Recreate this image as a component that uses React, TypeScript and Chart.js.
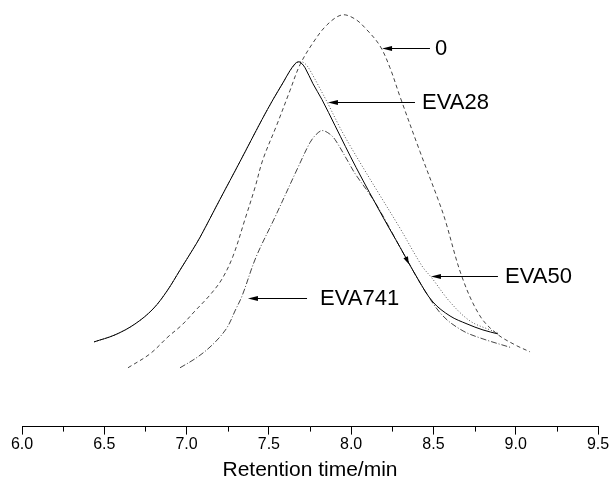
import React, { useEffect, useRef } from 'react';
import { Chart, registerables } from 'chart.js';

Chart.register(...registerables);

// ---- axis ----
const X_MIN = 6.0;
const X_MAX = 9.5;
const X_MAJOR_STEP = 0.5;
const X_MINOR_STEP = 0.25;
const X_TITLE = 'Retention time/min';

// ---- series: sample "0" (dashed) ----
const eva0X = [6.644, 6.778, 6.887, 6.972, 7.051, 7.142, 7.215, 7.282, 7.355, 7.416, 7.464, 7.549, 7.628, 7.689, 7.768, 7.853, 7.944, 8.023, 8.096, 8.175, 8.236, 8.297, 8.418, 8.528, 8.570, 8.674, 8.783, 8.886, 8.996, 9.087];
const eva0Y = [13.79, 17.06, 21.03, 23.83, 27.10, 30.84, 34.58, 39.95, 48.60, 56.07, 62.62, 70.79, 78.74, 84.81, 89.95, 94.16, 96.50, 95.56, 92.99, 89.25, 84.11, 77.34, 64.49, 53.27, 48.60, 35.05, 25.93, 21.73, 19.16, 17.52];

// ---- series: EVA28 (solid) ----
const eva28X = [6.438, 6.565, 6.687, 6.796, 6.881, 6.960, 7.039, 7.082, 7.203, 7.325, 7.458, 7.525, 7.586, 7.628, 7.659, 7.677, 7.695, 7.720, 7.768, 7.823, 7.902, 8.030, 8.194, 8.297, 8.406, 8.497, 8.601, 8.704, 8.801, 8.892];
const eva28Y = [19.86, 21.50, 24.07, 27.57, 31.78, 36.68, 41.59, 44.39, 53.27, 62.15, 71.96, 76.64, 80.61, 83.41, 85.05, 85.51, 85.28, 84.11, 80.37, 76.64, 70.56, 60.75, 49.07, 42.06, 34.58, 29.21, 25.93, 24.07, 22.66, 21.73];

// ---- series: EVA50 (dotted) ----
const eva50X = [6.438, 6.565, 6.687, 6.796, 6.881, 6.960, 7.039, 7.082, 7.203, 7.325, 7.458, 7.525, 7.586, 7.628, 7.671, 7.701, 7.732, 7.762, 7.811, 7.859, 7.932, 7.993, 8.072, 8.175, 8.297, 8.431, 8.491, 8.601, 8.722, 8.844, 8.892];
const eva50Y = [19.86, 21.50, 24.07, 27.57, 31.78, 36.68, 41.59, 44.39, 53.27, 62.15, 71.96, 76.64, 80.61, 83.41, 85.28, 85.51, 84.58, 82.71, 79.21, 75.70, 70.09, 65.89, 60.75, 54.21, 46.50, 37.62, 34.81, 29.21, 24.77, 22.66, 21.96];

// ---- series: EVA741 (dash-dot) ----
const eva741X = [6.960, 7.051, 7.130, 7.203, 7.252, 7.294, 7.337, 7.422, 7.537, 7.677, 7.750, 7.787, 7.823, 7.866, 7.902, 7.981, 8.023, 8.145, 8.327, 8.449, 8.558, 8.680, 8.801, 8.977];
const eva741Y = [13.79, 15.89, 18.22, 21.03, 23.60, 27.10, 30.61, 39.72, 49.07, 60.75, 66.59, 68.46, 69.39, 68.69, 67.29, 62.15, 59.35, 52.57, 39.95, 31.78, 25.93, 22.43, 20.56, 18.46];

// ---- annotations (labels with arrows) ----
const annotLabels = ['0', 'EVA28', 'EVA50', 'EVA741'];
const annotTipX = [8.188, 7.859, 8.485, 7.373];
const annotTipY = [88.79, 76.17, 35.28, 30.14];
const annotTailX = [8.479, 8.388, 8.892, 7.732];
const annotTextX = [8.510, 8.431, 8.935, 7.811];

// stray arrowhead in the original figure
const strayHeadX = [8.339];
const strayHeadY = [39.02];

const FONT = '"Liberation Sans", Arial, Helvetica, sans-serif';

function toPoints(xs: number[], ys: number[]) {
  return xs.map((x, i) => ({ x, y: ys[i] }));
}

const annotPlugin = {
  id: 'annotations',
  afterDraw(chart: any) {
    const { ctx, chartArea } = chart;
    const xs = chart.scales.x;
    const ys = chart.scales.y;
    ctx.save();
    // minor ticks
    ctx.strokeStyle = '#000';
    ctx.lineWidth = 1;
    const nSteps = Math.round((X_MAX - X_MIN) / X_MINOR_STEP);
    for (let i = 1; i < nSteps; i++) {
      if (i % 2 === 0) continue;
      const v = X_MIN + i * X_MINOR_STEP;
      const px = Math.round(xs.getPixelForValue(v)) + 0.5;
      ctx.beginPath();
      ctx.moveTo(px, chartArea.bottom);
      ctx.lineTo(px, chartArea.bottom + 5);
      ctx.stroke();
    }
    // arrows + labels
    ctx.fillStyle = '#000';
    ctx.font = `22px ${FONT}`;
    ctx.textBaseline = 'middle';
    ctx.textAlign = 'left';
    for (let i = 0; i < annotLabels.length; i++) {
      const tip = xs.getPixelForValue(annotTipX[i]);
      const tail = xs.getPixelForValue(annotTailX[i]);
      const py = Math.round(ys.getPixelForValue(annotTipY[i])) + 0.5;
      ctx.beginPath();
      ctx.moveTo(tail, py);
      ctx.lineTo(tip + 6, py);
      ctx.stroke();
      ctx.beginPath();
      ctx.moveTo(tip, py);
      ctx.lineTo(tip + 10, py - 2.5);
      ctx.lineTo(tip + 10, py + 2.5);
      ctx.closePath();
      ctx.fill();
      ctx.fillText(annotLabels[i], xs.getPixelForValue(annotTextX[i]), py);
    }
    for (let i = 0; i < strayHeadX.length; i++) {
      const px = xs.getPixelForValue(strayHeadX[i]);
      const py = ys.getPixelForValue(strayHeadY[i]);
      ctx.beginPath();
      ctx.moveTo(px + 2, py + 4);
      ctx.lineTo(px - 3.5, py - 2);
      ctx.lineTo(px + 1, py - 4);
      ctx.closePath();
      ctx.fill();
    }
    ctx.restore();
  },
};

export default function App() {
  const ref = useRef<HTMLCanvasElement | null>(null);

  useEffect(() => {
    if (!ref.current) return;
    const common = {
      pointRadius: 0,
      borderWidth: 1,
      tension: 0.35,
      fill: false,
    };
    const chart = new Chart(ref.current, {
      type: 'line',
      data: {
        datasets: [
          { ...common, label: '0', data: toPoints(eva0X, eva0Y), borderColor: '#444', borderDash: [4, 3] },
          { ...common, label: 'EVA28', data: toPoints(eva28X, eva28Y), borderColor: '#000' },
          { ...common, label: 'EVA50', data: toPoints(eva50X, eva50Y), borderColor: '#555', borderDash: [1, 2] },
          { ...common, label: 'EVA741', data: toPoints(eva741X, eva741Y), borderColor: '#444', borderDash: [6, 2, 1, 2] },
        ],
      },
      options: {
        animation: false,
        responsive: false,
        devicePixelRatio: 1,
        layout: { padding: { left: 22, right: 15, top: 0, bottom: 9 } },
        plugins: { legend: { display: false }, tooltip: { enabled: false } },
        scales: {
          x: {
            type: 'linear',
            min: X_MIN,
            max: X_MAX,
            border: { display: true, color: '#000', width: 1 },
            grid: { drawOnChartArea: false, drawTicks: true, tickLength: 8, color: '#000', tickColor: '#000' },
            ticks: {
              stepSize: X_MAJOR_STEP,
              autoSkip: false,
              maxRotation: 0,
              padding: 0,
              color: '#000',
              font: { family: FONT, size: 16 },
              callback: (v: any) => Number(v).toFixed(1),
            },
            title: {
              display: true,
              text: X_TITLE,
              color: '#000',
              font: { family: FONT, size: 21 },
              padding: { top: 4, bottom: 0 },
            },
          },
          y: { type: 'linear', display: false, min: 0, max: 100 },
        },
      },
      plugins: [annotPlugin],
    });
    return () => chart.destroy();
  }, []);

  return (
    <div style={{ position: 'fixed', left: 0, top: 0, width: 613, height: 492, background: '#fff' }}>
      <canvas ref={ref} width={613} height={492} style={{ display: 'block' }} />
    </div>
  );
}
